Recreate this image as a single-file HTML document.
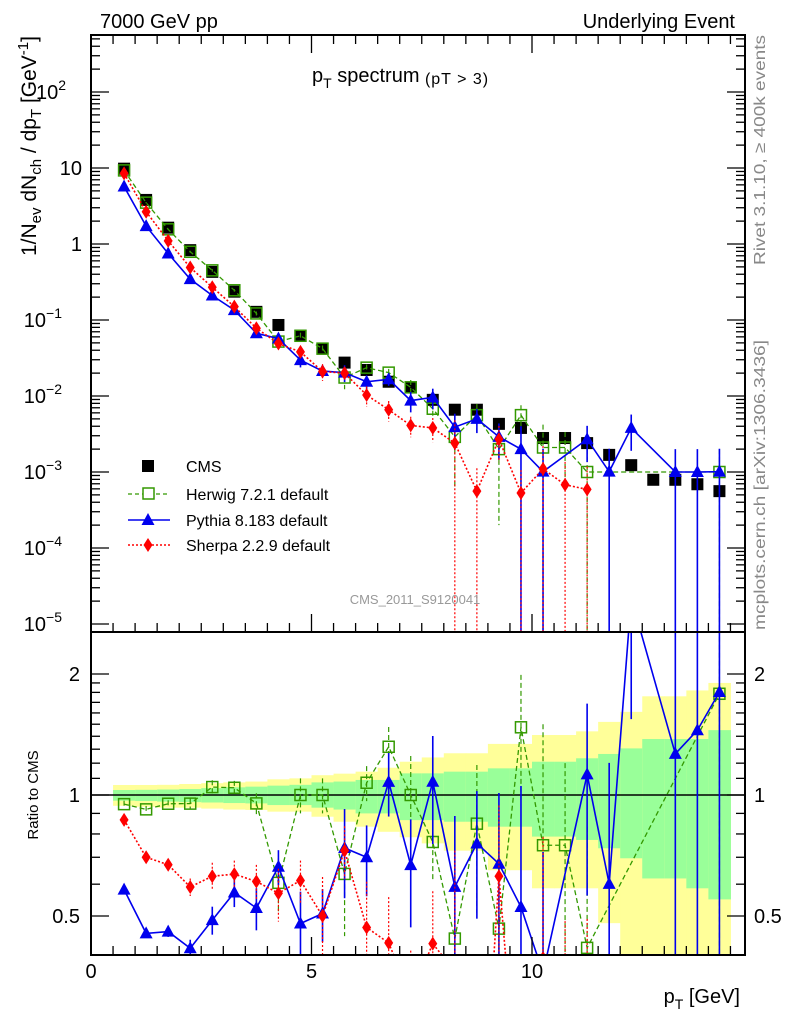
<!DOCTYPE html>
<html><head><meta charset="utf-8"><style>
html,body{margin:0;padding:0;width:786px;height:1024px;overflow:hidden;background:#fff}
svg{display:block;font-family:"Liberation Sans",Arial,sans-serif}
</style></head><body>
<svg id="c" width="786" height="1024" viewBox="0 0 786 1024">
<defs>
<clipPath id="cu"><rect x="91" y="35" width="654" height="597"/></clipPath>
<clipPath id="cl"><rect x="91" y="632" width="654" height="323"/></clipPath>
</defs>
<g id="bands" clip-path="url(#cl)"></g>
<line x1="91" y1="795" x2="745" y2="795" stroke="#000" stroke-width="1.5"/>
<g id="upper" clip-path="url(#cu)"></g>
<g id="lower" clip-path="url(#cl)"></g>
<g id="axes"></g>
<rect x="91" y="35" width="654" height="920" fill="none" stroke="#000" stroke-width="2"/>
<line x1="91" y1="632" x2="745" y2="632" stroke="#000" stroke-width="2"/>
<text x="100" y="28" font-size="20">7000 GeV pp</text>
<text x="735" y="28" font-size="20" text-anchor="end">Underlying Event</text>
<text x="312" y="82" font-size="20">p<tspan font-size="14" dy="6">T</tspan><tspan dy="-6"> spectrum</tspan><tspan font-size="16" dy="2" letter-spacing="1"> (pT &gt;  3)</tspan></text>
<text transform="translate(36,36) rotate(-90)" font-size="21" text-anchor="end">1/N<tspan font-size="15" dy="5">ev</tspan><tspan dy="-5"> dN</tspan><tspan font-size="15" dy="5">ch</tspan><tspan dy="-5"> / dp</tspan><tspan font-size="15" dy="5">T</tspan><tspan dy="-5"> [GeV</tspan><tspan font-size="15" dy="-8">-1</tspan><tspan dy="8">]</tspan></text>
<text transform="translate(38,795) rotate(-90)" font-size="15" text-anchor="middle">Ratio to CMS</text>
<text x="740" y="1003" font-size="20" text-anchor="end">p<tspan font-size="14" dy="6">T</tspan><tspan dy="-6"> [GeV]</tspan></text>
<text transform="translate(765,35) rotate(-90)" font-size="16" fill="#888" text-anchor="end" textLength="230" lengthAdjust="spacingAndGlyphs">Rivet 3.1.10, ≥ 400k events</text>
<text transform="translate(765,630) rotate(-90)" font-size="16" fill="#888" textLength="290" lengthAdjust="spacingAndGlyphs">mcplots.cern.ch [arXiv:1306.3436]</text>
<text x="415" y="604" font-size="13" fill="#999" text-anchor="middle">CMS_2011_S9120041</text>
<g>
<rect x="142" y="460" width="12" height="12" fill="#000"/>
<text x="186" y="472" font-size="16">CMS</text>
<line x1="128" y1="494" x2="170" y2="494" stroke="#339900" stroke-width="1.3" stroke-dasharray="4,3"/>
<rect x="143" y="488" width="11" height="11" fill="#fff" stroke="#339900" stroke-width="1.5"/>
<text x="186" y="500" font-size="16">Herwig 7.2.1 default</text>
<line x1="128" y1="520" x2="170" y2="520" stroke="#0000ee" stroke-width="1.5"/>
<path d="M148,513 L154.5,525 L141.5,525Z" fill="#0000ee"/>
<text x="186" y="526" font-size="16">Pythia 8.183 default</text>
<line x1="128" y1="545" x2="170" y2="545" stroke="#ff0000" stroke-width="1.5" stroke-dasharray="2,2"/>
<path d="M148,538 L152.5,545 L148,552 L143.5,545Z" fill="#ff0000"/>
<text x="186" y="551" font-size="16">Sherpa 2.2.9 default</text>
</g>
</svg>
<script>
const pT=[0.75,1.25,1.75,2.25,2.75,3.25,3.75,4.25,4.75,5.25,5.75,6.25,6.75,7.25,7.75,8.25,8.75,9.25,9.75,10.25,10.75,11.25,11.75,12.25,12.75,13.25,13.75,14.25];
const cms=[9.8,3.8,1.64,0.83,0.43,0.236,0.128,0.086,0.062,0.042,0.0275,0.022,0.0154,0.013,0.0089,0.0066,0.0066,0.0043,0.0038,0.0028,0.0028,0.0024,0.00168,0.00123,0.00079,0.00079,0.00069,0.00056];
const herwig=[9.3,3.5,1.56,0.79,0.45,0.246,0.122,0.052,0.062,0.042,0.0175,0.0236,0.0203,0.013,0.0068,0.0029,0.0056,0.002,0.0056,0.0021,0.0021,0.001,null,null,null,null,null,0.001];
const herwigErr=[0.02,0.02,0.02,0.03,0.04,0.04,0.06,0.15,0.1,0.1,0.3,0.1,0.12,0.25,0.2,0.8,0.4,0.9,0.35,1,0.6,1,0,0,0,0,0,1];
const pythia=[5.7,1.72,0.75,0.345,0.21,0.135,0.067,0.057,0.0297,0.0213,0.0203,0.0154,0.0166,0.0087,0.0096,0.0039,0.005,0.0029,0.002,0.00101,null,0.0027,0.00101,0.0038,null,0.001,0.001,0.00101];
const pythiaErr=[0.02,0.02,0.03,0.05,0.08,0.08,0.12,0.1,0.2,0.15,0.25,0.2,0.18,0.3,0.3,0.5,0.35,0.5,1,1,0,0.5,1,0.5,0,1,1,1];
const sherpa=[8.5,2.66,1.1,0.49,0.27,0.15,0.078,0.049,0.038,0.021,0.02,0.0103,0.0066,0.0041,0.0038,0.0024,0.00056,0.0027,0.00053,0.0011,0.00068,0.00059,null,null,null,null,null,null];
const sherpaErr=[0.02,0.02,0.03,0.05,0.08,0.08,0.1,0.15,0.12,0.25,0.15,0.3,0.3,0.3,0.35,1,1,0.5,1,1,1,1,0,0,0,0,0,0];
const yellowHi=[1.059,1.059,1.06,1.065,1.07,1.075,1.08,1.094,1.1,1.12,1.13,1.143,1.169,1.21,1.24,1.27,1.27,1.34,1.34,1.41,1.41,1.44,1.52,1.61,1.76,1.76,1.82,1.9];
const yellowLo=[0.94,0.935,0.93,0.93,0.925,0.92,0.918,0.909,0.909,0.883,0.858,0.834,0.81,0.785,0.758,0.727,0.727,0.65,0.65,0.586,0.586,0.586,0.48,0.3,0.3,0.3,0.3,0.3];
const greenHi=[1.029,1.03,1.032,1.035,1.04,1.045,1.049,1.055,1.06,1.075,1.08,1.09,1.09,1.132,1.132,1.143,1.143,1.165,1.165,1.21,1.21,1.234,1.265,1.306,1.378,1.378,1.378,1.45];
const greenLo=[0.968,0.966,0.963,0.96,0.958,0.955,0.953,0.944,0.944,0.93,0.92,0.9,0.9,0.866,0.866,0.858,0.858,0.834,0.834,0.788,0.788,0.773,0.737,0.696,0.62,0.62,0.586,0.55];
const xTicks=[0,5,10];
const uTicks=[{v:1e2,t:'10',e:'2'},{v:10,t:'10',e:''},{v:1,t:'1',e:''},{v:0.1,t:'10',e:'−1'},{v:0.01,t:'10',e:'−2'},{v:0.001,t:'10',e:'−3'},{v:1e-4,t:'10',e:'−4'},{v:1e-5,t:'10',e:'−5'}];
const rTicks=[0.5,1,2];

const NS='http://www.w3.org/2000/svg';
const X=v=>91+v*44.1;
const Yu=v=>244-76*Math.log10(v);
const Yr=r=>795-402*Math.log10(r);
function mk(tag,attrs,parent){const e=document.createElementNS(NS,tag);for(const k in attrs)e.setAttribute(k,attrs[k]);parent.appendChild(e);return e;}
const up=document.getElementById('upper'),lo=document.getElementById('lower'),bd=document.getElementById('bands'),ax=document.getElementById('axes');

pT.forEach((p,i)=>{
  let r=mk('rect',{x:X(p-0.25),y:Yr(yellowHi[i]),width:X(p+0.25)-X(p-0.25)+0.5,height:Yr(yellowLo[i])-Yr(yellowHi[i]),fill:'#ffff99'},bd);
  
  
  let g=mk('rect',{x:X(p-0.25),y:Yr(greenHi[i]),width:X(p+0.25)-X(p-0.25)+0.5,height:Yr(greenLo[i])-Yr(greenHi[i]),fill:'#99ff99'},bd);
  
  
});

function marker(type,x,y,parent,color){
  let e;
  if(type==='cms')e=mk('rect',{x:x-6,y:y-6,width:12,height:12,fill:'#000'},parent);
  else if(type==='herwig')e=mk('rect',{x:x-5.5,y:y-5.5,width:11,height:11,fill:'none',stroke:color,'stroke-width':1.5},parent);
  else if(type==='pythia')e=mk('path',{d:`M${x},${y-7} L${x+6.5},${y+5} L${x-6.5},${y+5}Z`,fill:color},parent);
  else e=mk('path',{d:`M${x},${y-7} L${x+4.5},${y} L${x},${y+7} L${x-4.5},${y}Z`,fill:color},parent);
  return e;
}
const series=[
 {n:'herwig',v:herwig,e:herwigErr,c:'#339900',d:'5,3',w:1.3},
 {n:'pythia',v:pythia,e:pythiaErr,c:'#0000ee',d:'',w:1.6},
 {n:'sherpa',v:sherpa,e:sherpaErr,c:'#ff0000',d:'2,2',w:1.6}
];
function drawSeries(s,ratio,parent,Y,bottom){
  const pts=[];
  pT.forEach((p,i)=>{
    if(s.v[i]==null)return;
    const val=ratio? s.v[i]/cms[i] : s.v[i];
    const hi=val*(1+s.e[i]), lw=val*(1-s.e[i]);
    const yl= lw>0? Y(lw): bottom;
    const eb=mk('line',{x1:X(p),x2:X(p),y1:Y(hi),y2:yl,stroke:s.c,'stroke-width':s.n==='pythia'?1.6:1.2,'stroke-dasharray':s.d},parent);
    
    
    pts.push([X(p),Y(val)]);
  });
  const pl=mk('polyline',{points:pts.map(q=>q.join(',')).join(' '),fill:'none',stroke:s.c,'stroke-width':s.w,'stroke-dasharray':s.d},parent);
  
  
  pts.forEach(q=>{
    const m=marker(s.n,q[0],q[1],parent,s.c);
    
    
  });
}
pT.forEach((p,i)=>{
  const m=marker('cms',X(p),Yu(cms[i]),up);
  
  
});
series.forEach(s=>drawSeries(s,false,up,Yu,632));
series.forEach(s=>drawSeries(s,true,lo,Yr,955));

function tk(x1,y1,x2,y2){const l=mk('line',{x1,y1,x2,y2,stroke:'#000','stroke-width':1.3},ax);}
for(let v=0;v<=14.5;v+=0.5){
  const major=(v%5===0), len=major?18:9, x=X(v);
  tk(x,955,x,955-len);tk(x,632,x,632-len);tk(x,35,x,35+len);
}
for(let d=-5;d<=2;d++)for(let m=1;m<10;m++){
  const v=m*Math.pow(10,d),y=Yu(v); if(y<35||y>632)continue;
  const len=m===1?18:9; tk(91,y,91+len,y);tk(745,y,745-len,y);
}
[0.4,0.5,0.6,0.7,0.8,0.9,1,1.1,1.2,1.3,1.4,1.5,1.6,1.7,1.8,1.9,2].forEach(v=>{
  const y=Yr(v); if(y<632||y>955)return;
  const len=(v===0.5||v===1||v===2)?18:9; tk(91,y,91+len,y);tk(745,y,745-len,y);
});
xTicks.forEach(v=>{const t=mk('text',{x:X(v),y:978,'font-size':20,'text-anchor':'middle'},ax);t.textContent=v;});
uTicks.forEach(o=>{
  const t=mk('text',{x:82,y:Yu(o.v)+7,'font-size':20,'text-anchor':'end'},ax);
  
  
  t.textContent=o.t;
  if(o.e){t.setAttribute('x',o.e.length>1?62:66);
    const s=mk('tspan',{'font-size':14,dy:-9},t);s.textContent=o.e;}
});
rTicks.forEach(v=>{
  [80,754].forEach((x,k)=>{const t=mk('text',{x:x,y:Yr(v)+7,'font-size':20,'text-anchor':k?'start':'end'},ax);t.textContent=v;});
});
</script>
</body></html>
